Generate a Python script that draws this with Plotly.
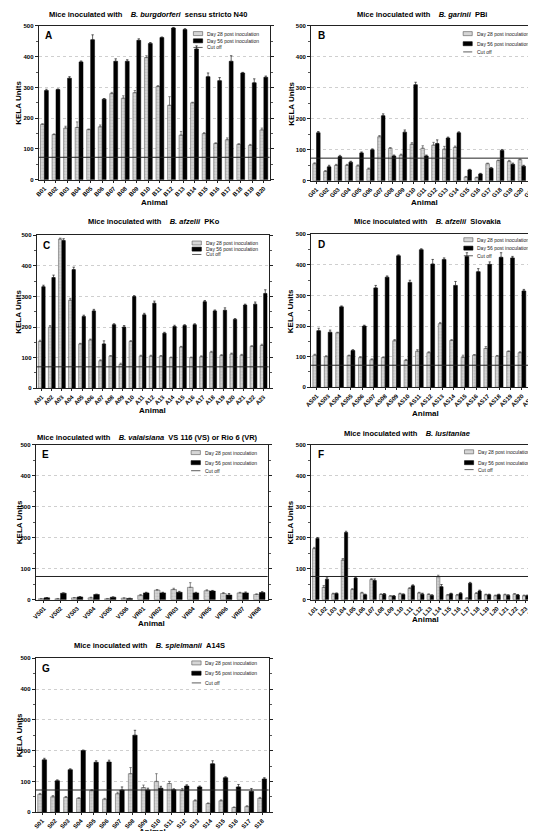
import plotly.graph_objects as go

W, H = 536, 831
FONT = "Liberation Sans, Arial, sans-serif"

# ---------------- data ----------------
A_animals = ["B01","B02","B03","B04","B05","B06","B07","B08","B09","B10",
             "B11","B12","B13","B14","B15","B16","B17","B18","B19","B20"]
A_day28 = [180,147,168,170,163,172,280,265,283,397,303,242,145,250,150,118,130,115,112,162]
A_day28_err = [2,2,6,18,2,6,4,8,7,6,3,28,12,2,3,2,6,2,3,6]
A_day56 = [290,293,330,383,455,262,385,385,453,443,462,493,488,425,335,322,385,347,315,333]
A_day56_err = [4,2,5,3,16,2,8,5,5,3,2,2,3,10,12,10,18,2,13,4]

B_animals = ["G01","G02","G03","G04","G05","G06","G07","G08","G09","G10","G11",
             "G12","G13","G14","G15","G16","G17","G18","G19","G20","G21"]
B_day28 = [55,30,50,50,48,38,142,105,83,118,105,115,102,108,12,10,55,65,63,68,92]
B_day28_err = [3,3,3,3,3,3,4,2,3,5,8,9,9,4,2,2,2,2,3,2,3]
B_day56 = [155,45,78,60,90,100,210,80,157,310,80,120,138,155,35,22,40,98,53,47,88]
B_day56_err = [4,5,4,3,3,3,6,3,7,8,3,12,3,3,2,2,3,3,4,3,3]

C_animals = ["A01","A02","A03","A04","A05","A06","A07","A08","A09","A10","A11","A12",
             "A13","A14","A15","A16","A17","A18","A19","A20","A21","A22","A23"]
C_day28 = [153,200,488,288,145,158,90,105,78,153,105,105,105,100,135,100,103,118,107,112,108,137,140]
C_day28_err = [4,5,3,6,2,3,3,2,4,3,3,3,2,2,2,2,3,3,3,3,3,2,4]
C_day56 = [332,362,483,388,235,253,145,208,200,300,240,278,180,202,205,208,283,253,255,225,272,275,310]
C_day56_err = [5,8,6,8,4,5,10,3,5,3,5,7,3,4,3,3,4,3,8,3,3,7,12]

D_animals = ["AS01","AS03","AS04","AS05","AS06","AS07","AS08","AS09","AS10","AS11",
             "AS12","AS13","AS14","AS15","AS16","AS17","AS18","AS19","AS20","AS21"]
D_day28 = [105,100,178,103,97,90,97,152,88,118,113,208,153,98,105,127,102,117,113,148]
D_day28_err = [3,3,2,2,3,3,2,4,3,5,3,4,3,7,2,6,2,2,3,7]
D_day56 = [185,180,263,120,200,325,360,430,343,450,403,418,333,428,378,402,425,423,315,268]
D_day56_err = [8,7,3,3,3,8,4,3,7,3,15,5,13,12,10,8,15,5,5,7]

E_animals = ["VS01","VS02","VS03","VS04","VS05","VS06","VR01","VR02","VR03","VR04",
             "VR05","VR06","VR07","VR08"]
E_day28 = [3,3,6,6,3,5,14,31,33,40,29,20,22,17]
E_day28_err = [1,1,1,2,1,1,3,2,4,15,3,3,2,2]
E_day56 = [6,21,9,17,8,4,22,22,24,22,28,15,22,23]
E_day56_err = [1,1,1,1,1,1,2,2,3,2,2,5,3,3]

F_animals = ["L01","L02","L03","L04","L05","L06","L07","L08","L09","L10","L11","L12",
             "L13","L14","L15","L16","L17","L18","L19","L20","L21","L22","L23","L24"]
F_day28 = [165,40,19,128,33,22,65,17,12,19,36,22,17,74,15,15,5,20,16,13,16,18,13,12]
F_day28_err = [4,6,2,5,3,2,3,2,1,2,3,2,2,5,2,2,1,3,2,2,2,2,2,2]
F_day56 = [198,66,20,217,70,16,62,18,12,17,45,18,14,42,19,20,53,28,16,16,14,15,13,13]
F_day56_err = [3,5,2,4,3,2,5,2,1,2,3,3,2,7,2,3,3,3,2,2,2,2,2,2]

G_animals = ["S01","S02","S03","S04","S05","S06","S07","S08","S09","S10","S11","S12",
             "S13","S14","S15","S16","S17","S18"]
G_day28 = [58,50,48,45,70,42,60,125,80,100,93,70,37,28,37,15,18,45]
G_day28_err = [3,4,3,2,3,3,5,20,8,25,7,7,3,2,3,2,3,3]
G_day56 = [170,102,138,200,162,163,72,250,72,78,73,85,82,157,112,82,68,108]
G_day56_err = [5,3,3,2,5,6,10,16,6,6,3,4,3,10,3,8,9,4]

cutoffs = [73, 73, 70, 72, 75, 75, 72]
panel_letters = ["A", "B", "C", "D", "E", "F", "G"]
species = ["B. burgdorferi", "B. garinii", "B. afzelii", "B. afzelii",
           "B. valaisiana", "B. lusitaniae", "B. spielmanii"]
strains = ["sensu stricto N40", "PBi", "PKo", "Slovakia",
           "VS 116 (VS) or Rio 6 (VR)", "", "A14S"]
legend_labels = ["Day 28 post inoculation", "Day 56 post inoculation", "Cut off"]
y_ticks = [0, 100, 200, 300, 400, 500]

# ---------------- layout constants (pixels) ----------------
panels = [
    dict(animals=A_animals, d28=A_day28, e28=A_day28_err, d56=A_day56, e56=A_day56_err,
         box=(25, 15, 259, 170), title_xy=(136, 4), ytitle_x=5, xtitle_y=193, leg=(0.05, 0.097, 0.14)),
    dict(animals=B_animals, d28=B_day28, e28=B_day28_err, d56=B_day56, e56=B_day56_err,
         box=(301, 15, 531, 171), title_xy=(413, 4), ytitle_x=281, xtitle_y=193, leg=(0.05, 0.115, 0.168)),
    dict(animals=C_animals, d28=C_day28, e28=C_day28_err, d56=C_day56, e56=C_day56_err,
         box=(23, 226, 258, 380), title_xy=(142, 212), ytitle_x=5, xtitle_y=402, leg=(0.05, 0.09, 0.125)),
    dict(animals=D_animals, d28=D_day28, e28=D_day28_err, d56=D_day56, e56=D_day56_err,
         box=(301, 225, 532, 379), title_xy=(419, 212), ytitle_x=280, xtitle_y=405, leg=(0.035, 0.09, 0.14)),
    dict(animals=E_animals, d28=E_day28, e28=E_day28_err, d56=E_day56, e56=E_day56_err,
         box=(22, 437, 257, 593), title_xy=(135, 430), ytitle_x=5, xtitle_y=617, leg=(0.05, 0.115, 0.167)),
    dict(animals=F_animals, d28=F_day28, e28=F_day28_err, d56=F_day56, e56=F_day56_err,
         box=(301, 437, 533, 593), title_xy=(400, 426), ytitle_x=280, xtitle_y=613, leg=(0.045, 0.115, 0.16)),
    dict(animals=G_animals, d28=G_day28, e28=G_day28_err, d56=G_day56, e56=G_day56_err,
         box=(22, 652, 258, 807), title_xy=(137, 639), ytitle_x=5, xtitle_y=826, leg=(0.03, 0.097, 0.16)),
]

GRAY = "#d6d6d6"
fig = go.Figure()
layout = dict(width=W, height=H, margin=dict(l=0, r=0, t=0, b=0),
              paper_bgcolor="white", plot_bgcolor="white",
              barmode="group", bargap=0.32, bargroupgap=0.0,
              showlegend=False, font=dict(family=FONT, color="black"))
shapes, annotations = [], []

for i, p in enumerate(panels):
    n = i + 1
    sfx = "" if n == 1 else str(n)
    xa, ya = "x" + sfx, "y" + sfx
    x0, y0, x1, y1 = p["box"]

    fig.add_trace(go.Bar(
        x=p["animals"], y=p["d28"], name=legend_labels[0], xaxis=xa, yaxis=ya,
        offsetgroup="d28",
        marker=dict(color=GRAY, line=dict(color="#666", width=0.6),
                    pattern=dict(shape=".", fgcolor="#9a9a9a", size=3, solidity=0.35)),
        error_y=dict(type="data", array=p["e28"], arrayminus=[0] * len(p["e28"]),
                     symmetric=False, thickness=0.7, width=1.2, color="#555")))
    fig.add_trace(go.Bar(
        x=p["animals"], y=p["d56"], name=legend_labels[1], xaxis=xa, yaxis=ya,
        offsetgroup="d56",
        marker=dict(color="black", line=dict(color="black", width=0.5)),
        error_y=dict(type="data", array=p["e56"], arrayminus=[0] * len(p["e56"]),
                     symmetric=False, thickness=0.7, width=1.2, color="#222")))

    layout["xaxis" + sfx] = dict(
        domain=[x0 / W, x1 / W], anchor=ya, type="category",
        tickangle=-45, tickfont=dict(size=6, family=FONT, weight="bold"),
        showline=True, mirror=True, linecolor="#222", linewidth=1,
        ticks="outside", ticklen=2, tickwidth=0.7, tickcolor="#222",
        showgrid=False, zeroline=False, fixedrange=True)
    layout["yaxis" + sfx] = dict(
        domain=[1 - y1 / H, 1 - y0 / H], anchor=xa, range=[0, 500],
        tickvals=y_ticks, ticktext=[str(v) for v in y_ticks],
        tickfont=dict(size=6, family=FONT, weight="bold"),
        showline=True, mirror="allticks", linecolor="#222", linewidth=1,
        ticks="outside", ticklen=3, tickwidth=0.7, tickcolor="#222",
        showgrid=True, gridcolor="#cfcfcf", griddash="dot", gridwidth=0.6,
        zeroline=False, fixedrange=True,
        minor=dict(dtick=50, ticks="outside", ticklen=2, tickcolor="#555", showgrid=False))

    # cut-off line
    shapes.append(dict(type="line", xref=xa + " domain", yref=ya, x0=0, x1=1,
                       y0=cutoffs[i], y1=cutoffs[i], line=dict(color="#222", width=1), layer="above"))

    # legend (drawn manually for compact spacing)
    r1, r2, r3 = p["leg"]
    sx0, sx1 = 0.67, 0.71
    hh = 0.013
    shapes.append(dict(type="rect", xref=xa + " domain", yref=ya + " domain",
                       x0=sx0, x1=sx1, y0=1 - r1 - hh, y1=1 - r1 + hh,
                       fillcolor=GRAY, line=dict(color="#555", width=0.6)))
    shapes.append(dict(type="rect", xref=xa + " domain", yref=ya + " domain",
                       x0=sx0, x1=sx1, y0=1 - r2 - hh, y1=1 - r2 + hh,
                       fillcolor="black", line=dict(color="black", width=0.6)))
    shapes.append(dict(type="line", xref=xa + " domain", yref=ya + " domain",
                       x0=sx0, x1=sx1, y0=1 - r3, y1=1 - r3,
                       line=dict(color="#333", width=0.8)))
    for lab, r in zip(legend_labels, (r1, r2, r3)):
        annotations.append(dict(text=lab, xref=xa + " domain", yref=ya + " domain",
                                x=sx1 + 0.01, y=1 - r, xanchor="left", yanchor="middle",
                                showarrow=False, font=dict(size=5, family=FONT, color="#222")))

    # panel letter
    annotations.append(dict(text="<b>%s</b>" % panel_letters[i], xref=xa + " domain", yref=ya + " domain",
                            x=0.02, y=0.935, xanchor="left", yanchor="middle", showarrow=False,
                            font=dict(size=10, family=FONT)))

    # title
    nb = "\u00a0"
    ttl = "<b>Mice inoculated with" + nb * 4 + "<i>" + species[i] + "</i>" + nb * 2 + strains[i] + "</b>"
    tx, ty = p["title_xy"]
    annotations.append(dict(text=ttl, xref="paper", yref="paper", x=tx / W, y=1 - ty / H,
                            xanchor="center", yanchor="middle", showarrow=False,
                            font=dict(size=7.5, family=FONT)))
    # y-axis title
    annotations.append(dict(text="<b>KELA Units</b>", xref="paper", yref="paper",
                            x=p["ytitle_x"] / W, y=1 - (y0 + y1) / 2 / H, textangle=-90,
                            xanchor="center", yanchor="middle", showarrow=False,
                            font=dict(size=8, family=FONT)))
    # x-axis title
    annotations.append(dict(text="<b>Animal</b>", xref="paper", yref="paper",
                            x=(x0 + x1) / 2 / W, y=1 - p["xtitle_y"] / H,
                            xanchor="center", yanchor="middle", showarrow=False,
                            font=dict(size=8, family=FONT)))

layout["shapes"] = shapes
layout["annotations"] = annotations
fig.update_layout(**layout)
fig.write_html("out.html")
